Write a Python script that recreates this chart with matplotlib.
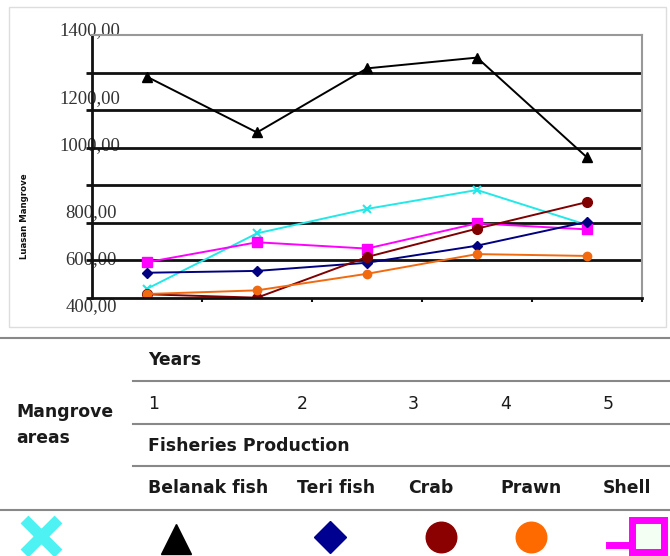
import matplotlib.pyplot as plt
import numpy as np
from matplotlib.patches import Rectangle

# chart data
years = [1, 2, 3, 4, 5]
belanak = [1241, 1029, 1273, 1314, 934]
teri = [495, 502, 533, 598, 689]
crab = [413, 400, 555, 663, 764]
prawn = [414, 428, 491, 566, 559]
shell = [535, 611, 587, 683, 660]
mangrove = [434, 645, 738, 810, 677]

ytick_text = ['1400,00', '1200,00', '1000,00', '800,00', '600,00', '400,00']
# the labels in the scan sit at odd heights, these are their pixel rows
ytick_rows = [31, 99, 146, 213, 260, 307]
ytick_right = [120, 120, 120, 117, 117, 117]

species = ['Belanak fish', 'Teri fish', 'Crab', 'Prawn', 'Shell']
col_x = [148, 297, 408, 500, 603]

W, H = 670, 556
fig = plt.figure(figsize=(W / 100, H / 100), dpi=100)

# full-figure overlay in pixel coordinates for text, rules and icons
over = fig.add_axes([0, 0, 1, 1], zorder=0)
over.set_xlim(0, W)
over.set_ylim(H, 0)
over.axis('off')

# light frame round the chart
over.add_patch(Rectangle((9, 7), 657, 320, fill=False, ec='#dddddd', lw=1))

ax = fig.add_axes([92 / W, 1 - 297.7 / H, 550 / W, 262.7 / H], zorder=2)
ax.patch.set_alpha(0)

series = [
    (belanak, 'black', '^', 7, dict()),
    (mangrove, '#22e8e8', 'x', 6, dict(markeredgewidth=1.5)),
    (shell, '#ff00ff', 's', 7, dict()),
    (teri, '#000080', 'D', 5, dict()),
    (crab, '#800000', 'o', 7, dict()),
    (prawn, '#f26a10', 'o', 6, dict()),
]
for vals, col, mk, ms, kw in series:
    ax.plot(years, vals, color=col, marker=mk, markersize=ms, lw=1.4, **kw)

ax.set_xlim(0.5, 5.5)
ax.set_ylim(400, 1400)
grid = np.linspace(400, 1400, 8)
for g in grid[1:-1]:
    ax.axhline(g, color='#111111', lw=2, zorder=0)

ax.set_yticks(grid[:-1])
ax.set_yticklabels([])
ax.tick_params(axis='y', length=4, width=2, direction='out', color='#111111')
ax.set_xticks(np.arange(1.5, 6, 1))
ax.set_xticklabels([])
ax.tick_params(axis='x', length=3, width=1.5, direction='out', color='#111111')

ax.spines['left'].set_linewidth(2)
ax.spines['left'].set_color('#111111')
ax.spines['bottom'].set_linewidth(2)
ax.spines['bottom'].set_color('#111111')
ax.spines['top'].set_linewidth(1.5)
ax.spines['top'].set_color('#999999')
ax.spines['right'].set_linewidth(1.5)
ax.spines['right'].set_color('#999999')

for txt, row, right in zip(ytick_text, ytick_rows, ytick_right):
    over.text(right, row, txt, ha='right', va='center', fontsize=13.5,
              family='Liberation Serif', color='#333333', zorder=3)

over.text(25, 216, 'Luasan Mangrove', rotation=90, ha='center', va='center',
          fontsize=6.2, fontweight='bold', color='#111111')

# table under the chart
rule = dict(color='#888888', lw=1.5)
over.plot([0, W], [338, 338], **rule)
over.plot([133, W], [381, 381], **rule)
over.plot([133, W], [424, 424], **rule)
over.plot([133, W], [466, 466], **rule)
over.plot([0, W], [510, 510], **rule)

tfont = dict(family='DejaVu Sans', fontsize=12.4, color='#1a1a1a', va='center')
over.text(col_x[0], 360, 'Years', fontweight='bold', **tfont)
for x, yr in zip(col_x, years):
    over.text(x, 404, str(yr), **tfont)
over.text(col_x[0], 446, 'Fisheries Production', fontweight='bold', **tfont)
for x, name in zip(col_x, species):
    over.text(x, 488, name, fontweight='bold', **tfont)
over.text(16, 412, 'Mangrove', fontweight='bold', **tfont)
over.text(16, 438, 'areas', fontweight='bold', **tfont)

# legend icons cut from the original under the table
over.plot(41, 536, marker='x', ms=24, mew=8, color='#30f0f0', alpha=0.85)
over.plot(176, 539, marker='^', ms=21, color='black')
over.plot(330, 537, marker='D', ms=16, color='#000090')
over.plot(441, 537, marker='o', ms=22, color='#8b0000')
over.plot(531, 537, marker='o', ms=22, color='#ff6a00')
over.plot([609, 632], [545, 545], color='#ff00ff', lw=5)
over.plot(648, 536, marker='s', ms=23, mfc='#f4fff4', mec='#ff00ff', mew=5)

fig.savefig('out.png', dpi=100)
